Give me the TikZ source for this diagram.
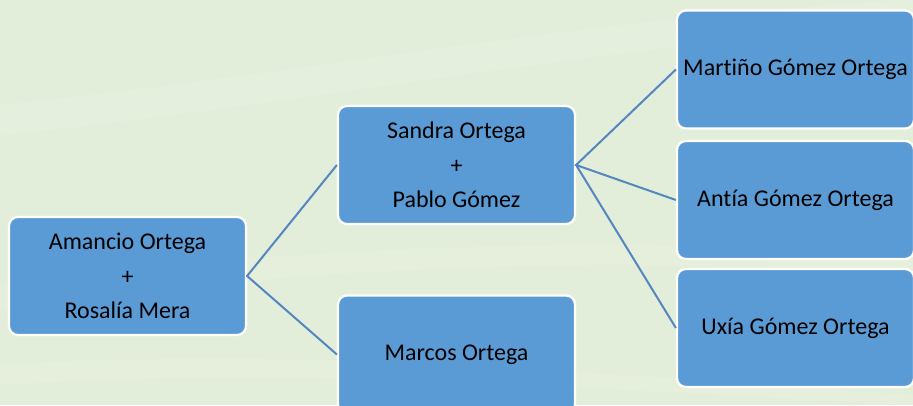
\documentclass[tikz,border=0pt]{standalone}
\usepackage{fontspec}
\setmainfont{Carlito}[Ligatures={NoCommon,NoContextual}]
\definecolor{bgcol}{RGB}{227,238,218}
\definecolor{boxcol}{RGB}{91,155,213}
\definecolor{linecol}{RGB}{84,134,192}
\begin{document}
\begin{tikzpicture}[x=1pt,y=1pt,
  person/.style={draw=white,line width=2.2pt,fill=boxcol,rounded corners=9pt,
    minimum width=237pt,minimum height=118pt,inner sep=0pt,align=center,
    font=\fontsize{24}{34.5}\selectfont,text=black},
  link/.style={draw=linecol,line width=2pt}]
\useasboundingbox (0,0) rectangle (913,405);
\clip (0,0) rectangle (913,405);
\fill[bgcol] (0,0) rectangle (913,405);
% subtle background streaks
\fill[white,opacity=0.10] (0,300) .. controls (300,330) and (600,390) .. (913,405) -- (913,380) .. controls (600,360) and (300,300) .. (0,270) -- cycle;
\fill[white,opacity=0.08] (0,120) .. controls (300,160) and (600,170) .. (913,150) -- (913,130) .. controls (600,150) and (300,140) .. (0,95) -- cycle;
\fill[white,opacity=0.08] (0,40) .. controls (300,60) and (600,30) .. (913,10) -- (913,0) .. controls (600,15) and (300,40) .. (0,20) -- cycle;
\node[person] (am) at (127.5,129) {Amancio Ortega\\+\\Rosalía Mera};
\node[person] (sa) at (456.5,240) {Sandra Ortega\\+\\Pablo Gómez};
\node[person] (ma) at (456.5,50.5) {Marcos Ortega};
\node[person] (mt) at (795.5,335.5) {Mart\kern0pt iño Gómez Ortega};
\node[person] (an) at (795.5,205) {Ant\kern0pt ía Gómez Ortega};
\node[person] (ux) at (795.5,77) {Uxía Gómez Ortega};
\draw[link] (sa.west) -- (am.east) -- (ma.west);
\draw[link] (mt.west) -- (sa.east) -- (an.west);
\draw[link] (sa.east) -- (ux.west);
\end{tikzpicture}
\end{document}
